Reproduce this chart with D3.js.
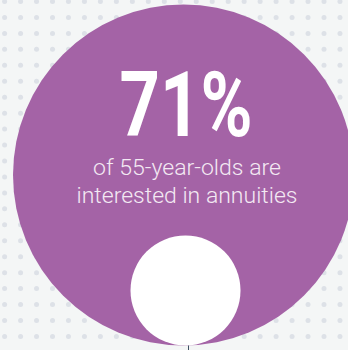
<!DOCTYPE html>
<html>
<head>
<meta charset="utf-8">
<script src="https://cdn.jsdelivr.net/npm/d3@7"></script>
<style>
  html, body { margin: 0; padding: 0; background: #f4f6f6; }
  svg { display: block; }
</style>
</head>
<body>
<div id="chart"></div>
<script>
// ── Stat bubble: share of 55-year-olds interested in annuities ──
const statValue   = [71];                 // percent
const statSuffix  = ["%"];
const captionLines = ["of 55-year-olds are", "interested in annuities"];

const width = 348, height = 350;

const svg = d3.select("#chart").append("svg")
    .attr("width", width).attr("height", height);

// background dot grid
svg.append("rect").attr("width", width).attr("height", height).attr("fill", "#f4f6f6");
const dotsX = d3.range(4.6, width + 8, 15.97);
const dotsY = d3.range(1.5, height + 8, 15.95);
const dots = svg.append("g");
dotsY.forEach(y => {
    dots.selectAll(null).data(dotsX).join("circle")
        .attr("cx", x => x).attr("cy", y).attr("r", 2.5)
        .attr("fill", "#dde1e7");
});

// big bubble
svg.append("circle")
    .attr("cx", 183.5).attr("cy", 175).attr("r", 170.5)
    .attr("fill", "#a463a6");

// small white bubble + tick
svg.append("circle")
    .attr("cx", 185.5).attr("cy", 290.5).attr("r", 55)
    .attr("fill", "#ffffff");
svg.append("line")
    .attr("x1", 188.5).attr("x2", 188.5).attr("y1", 345.5).attr("y2", 350)
    .attr("stroke", "#3d4f63").attr("stroke-width", 1);

// headline number
const fmt = d3.format("d");
svg.append("text")
    .attr("x", 186).attr("y", 136)
    .attr("text-anchor", "middle")
    .attr("textLength", 133).attr("lengthAdjust", "spacingAndGlyphs")
    .style("font-family", "Roboto, 'Open Sans', sans-serif")
    .style("font-weight", "700")
    .style("font-size", "90px")
    .style("fill", "#ffffff")
    .text(fmt(statValue[0]) + statSuffix[0]);

// caption
const captionWidths = [188, 221];
svg.selectAll("text.caption")
    .data(captionLines)
    .join("text").attr("class", "caption")
    .attr("x", 187)
    .attr("y", (d, i) => 175 + i * 28.3)
    .attr("text-anchor", "middle")
    .attr("textLength", (d, i) => captionWidths[i])
    .attr("lengthAdjust", "spacingAndGlyphs")
    .style("font-family", "Roboto, 'Open Sans', sans-serif")
    .style("font-weight", "300")
    .style("font-size", "21.5px")
    .style("fill", "#f3e9f3")
    .text(d => d);
</script>
</body>
</html>
